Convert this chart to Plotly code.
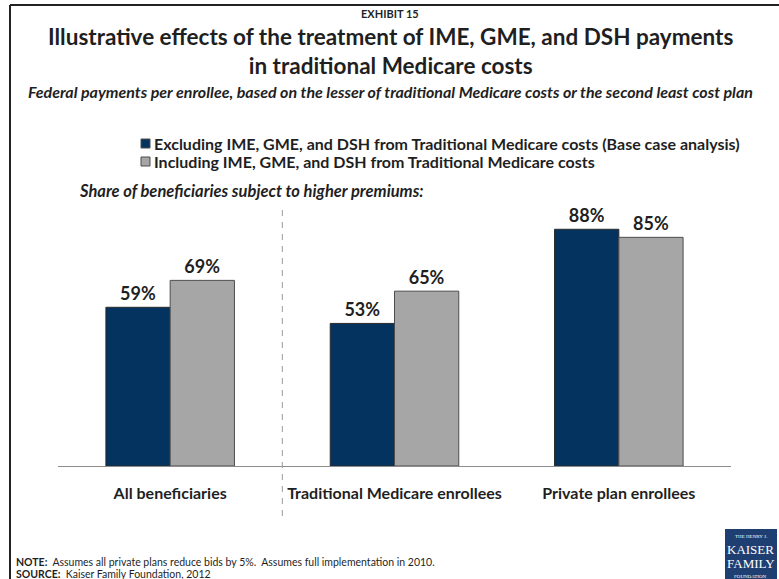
import plotly.graph_objects as go

categories = ["All beneficiaries", "Traditional Medicare enrollees", "Private plan enrollees"]
excluding_vals = [59, 53, 88]
including_vals = [69, 65, 85]
series_names = [
    "Excluding IME, GME, and DSH from Traditional Medicare costs (Base case analysis)",
    "Including IME, GME, and DSH from Traditional Medicare costs",
]
title_lines = [
    "Illustrative effects of the treatment of IME, GME, and DSH payments",
    "in traditional Medicare costs",
]

BLUE = "#04335f"
GRAY = "#a6a6a6"
TXT = "#1f1f1f"
FONT = "Lato"

W, H = 779, 579
L, R, T, B = 58, 48, 197, 113
PW, PH = W - L - R, H - T - B


def px(x):
    return (x - L) / PW


def py(y):
    return (H - B - y) / PH


fig = go.Figure()
fig.add_trace(go.Bar(
    x=categories, y=excluding_vals, name=series_names[0],
    marker=dict(color=BLUE, line=dict(color="#2b2b2b", width=1)),
    texttemplate="%{y}%", textposition="outside", cliponaxis=False,
    textfont=dict(family=FONT, size=18, color=TXT, weight="bold"),
))
fig.add_trace(go.Bar(
    x=categories, y=including_vals, name=series_names[1],
    marker=dict(color=GRAY, line=dict(color="#4d4d4d", width=1)),
    texttemplate="%{y}%", textposition="outside", cliponaxis=False,
    textfont=dict(family=FONT, size=18, color=TXT, weight="bold"),
))

shapes = []
annotations = []

# frame lines
shapes.append(dict(type="line", xref="paper", yref="paper", x0=px(10), x1=px(779), y0=py(5), y1=py(5),
                   line=dict(color="#222222", width=2)))
shapes.append(dict(type="line", xref="paper", yref="paper", x0=px(10), x1=px(10), y0=py(5), y1=py(579),
                   line=dict(color="#222222", width=2)))

# dashed separator
shapes.append(dict(type="line", xref="x", yref="paper", x0=0.5, x1=0.5, y0=py(210), y1=py(522),
                   line=dict(color="#9a9a9a", width=1, dash="6px,6px")))

# legend (manual)
for i, (nm, col) in enumerate(zip(series_names, [BLUE, GRAY])):
    yc = 143 + i * 18
    shapes.append(dict(type="rect", xref="paper", yref="paper",
                       x0=px(141), x1=px(150), y0=py(yc + 5), y1=py(yc - 4),
                       fillcolor=col, line=dict(color="#4d4d4d", width=1)))
    annotations.append(dict(text=nm, xref="paper", yref="paper", x=px(152), y=py(yc),
                            xanchor="left", yanchor="middle", showarrow=False,
                            font=dict(family=FONT, size=16, color=TXT, weight="bold")))

# titles
annotations.append(dict(text="EXHIBIT 15", xref="paper", yref="paper", x=px(390), y=py(14),
                        xanchor="center", yanchor="middle", showarrow=False,
                        font=dict(family=FONT, size=11, color=TXT, weight="bold")))
annotations.append(dict(text="<br>".join(title_lines), xref="paper", yref="paper", x=px(390), y=py(51),
                        xanchor="center", yanchor="middle", showarrow=False,
                        font=dict(family=FONT, size=22.5, color=TXT, weight="bold")))
annotations.append(dict(text="<i>Federal payments per enrollee, based on the lesser of traditional Medicare costs or the second least cost plan</i>",
                        xref="paper", yref="paper", x=px(390), y=py(91),
                        xanchor="center", yanchor="middle", showarrow=False,
                        font=dict(family=FONT, size=16, color=TXT, weight="bold")))
annotations.append(dict(text="<i>Share of beneficiaries subject to higher premiums:</i>",
                        xref="paper", yref="paper", x=px(77), y=py(191),
                        xanchor="left", yanchor="middle", showarrow=False,
                        font=dict(family=FONT, size=16.5, color=TXT, weight="bold")))

# notes
annotations.append(dict(text="<b>NOTE:</b>  Assumes all private plans reduce bids by 5%.  Assumes full implementation in 2010.",
                        xref="paper", yref="paper", x=px(14), y=py(562),
                        xanchor="left", yanchor="middle", showarrow=False,
                        font=dict(family=FONT, size=10.5, color=TXT)))
annotations.append(dict(text="<b>SOURCE:</b>  Kaiser Family Foundation, 2012",
                        xref="paper", yref="paper", x=px(14), y=py(574),
                        xanchor="left", yanchor="middle", showarrow=False,
                        font=dict(family=FONT, size=10.5, color=TXT)))

# logo
shapes.append(dict(type="rect", xref="paper", yref="paper", x0=px(725), x1=px(777), y0=py(529), y1=py(580),
                   fillcolor="#1f3f73", line=dict(width=0)))
for txt, yy, sz in [("THE HENRY J.", 536, 5), ("KAISER", 549, 13), ("FAMILY", 563, 13), ("FOUNDATION", 576, 5)]:
    annotations.append(dict(text=txt, xref="paper", yref="paper", x=px(751), y=py(yy),
                            xanchor="center", yanchor="middle", showarrow=False,
                            font=dict(family="Liberation Serif", size=sz, color="white")))

fig.update_layout(
    width=W, height=H,
    margin=dict(l=L, r=R, t=T, b=B, pad=0),
    paper_bgcolor="white", plot_bgcolor="white",
    barmode="group", bargap=0.427, bargroupgap=0,
    showlegend=False,
    shapes=shapes, annotations=annotations,
    xaxis=dict(showline=True, linecolor="#8c8c8c", linewidth=1, ticks="", showgrid=False,
               tickfont=dict(family=FONT, size=16, color=TXT, weight="bold"),
               ticklabelstandoff=13),
    yaxis=dict(range=[0, 100], visible=False, showgrid=False, zeroline=False),
)

fig.write_html("out.html")
